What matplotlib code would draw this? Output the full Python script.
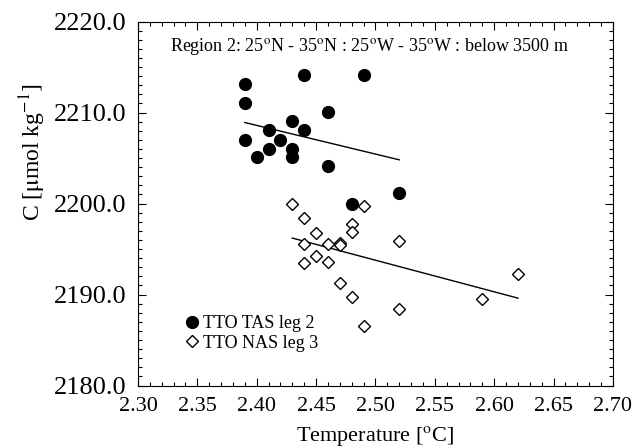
import numpy as np
import matplotlib
matplotlib.use('Agg')
import matplotlib.pyplot as plt
from matplotlib.ticker import MultipleLocator, FormatStrFormatter

plt.rcParams['font.family'] = ['Liberation Serif', 'DejaVu Serif']
plt.rcParams['mathtext.fontset'] = 'stix'

# TTO TAS leg 2 (filled circles)
tas_T = [2.39, 2.39, 2.39, 2.40, 2.41, 2.41, 2.42, 2.43, 2.43, 2.43,
         2.44, 2.44, 2.46, 2.46, 2.48, 2.49, 2.52]
tas_C = [2213.1, 2211.0, 2207.0, 2205.1, 2208.1, 2206.0, 2207.0, 2209.1, 2206.0, 2205.1,
         2214.1, 2208.1, 2210.1, 2204.1, 2200.0, 2214.1, 2201.1]

# TTO NAS leg 3 (open diamonds)
nas_T = [2.43, 2.44, 2.44, 2.44, 2.45, 2.45, 2.46, 2.46, 2.47, 2.47, 2.47,
         2.48, 2.48, 2.48, 2.49, 2.49, 2.52, 2.52, 2.59, 2.62]
nas_C = [2200.0, 2198.4, 2195.5, 2193.5, 2196.8, 2194.2, 2195.5, 2193.6, 2195.7, 2195.4, 2191.3,
         2197.8, 2196.9, 2189.7, 2199.7, 2186.5, 2195.9, 2188.4, 2189.5, 2192.3]

# regression lines (end points)
fit_tas_T = [2.39, 2.52]
fit_tas_C = [2208.9, 2204.8]
fit_nas_T = [2.43, 2.62]
fit_nas_C = [2196.2, 2189.6]

fig = plt.figure(figsize=(6.37, 4.48), dpi=100)
ax = fig.add_axes([0.2166, 0.1395, 0.7457, 0.8125])

ax.plot(fit_tas_T, fit_tas_C, color='black', lw=1.0)
ax.plot(fit_nas_T, fit_nas_C, color='black', lw=1.0)
ax.plot(tas_T, tas_C, 'o', color='black', ms=8.5, label='TTO TAS leg 2')
ax.plot(nas_T, nas_C, 'D', mfc='white', mec='black', mew=1.0, ms=6.5, label='TTO NAS leg 3')

ax.set_xlim(2.30, 2.70)
ax.set_ylim(2180.0, 2220.0)
ax.xaxis.set_major_locator(MultipleLocator(0.05))
ax.xaxis.set_minor_locator(MultipleLocator(0.01))
ax.yaxis.set_major_locator(MultipleLocator(10))
ax.yaxis.set_minor_locator(MultipleLocator(1))
ax.xaxis.set_major_formatter(FormatStrFormatter('%.2f'))
ax.yaxis.set_major_formatter(FormatStrFormatter('%.1f'))
ax.tick_params(which='both', direction='in', top=True, right=True, width=0.8)
ax.tick_params(which='major', length=6)
ax.tick_params(which='minor', length=3)
ax.tick_params(axis='x', labelsize=16, pad=8)
ax.tick_params(axis='y', labelsize=19, pad=8)

ax.set_xlabel('Temperature [$^{\\mathrm{o}}$C]', fontsize=16, labelpad=6)
ax.set_ylabel('C [$\\mathrm{\\mu}$mol kg$^{\\mathrm{-1}}$]', fontsize=17)
ax.yaxis.set_label_coords(-0.19, 0.64)

ax.text(0.488, 0.93, 'Region 2: 25$^{\\mathrm{o}}$N - 35$^{\\mathrm{o}}$N : 25$^{\\mathrm{o}}$W - 35$^{\\mathrm{o}}$W : below 3500 m',
        transform=ax.transAxes, ha='center', va='center', fontsize=13)

ax.legend(loc='lower left', bbox_to_anchor=(0.072, 0.068), frameon=False, fontsize=13,
          handletextpad=0.0, borderpad=0, labelspacing=0.15, handlelength=1.2)

fig.savefig('out.png', dpi=100)
